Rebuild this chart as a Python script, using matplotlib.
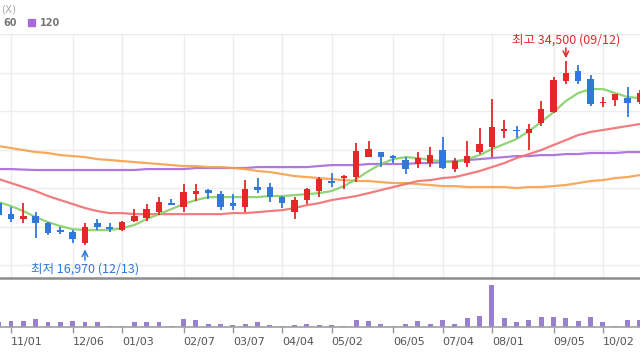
import numpy as np
import matplotlib
matplotlib.use('Agg')
import matplotlib.pyplot as plt

plt.rcParams['font.family'] = ['Noto Sans CJK KR', 'DejaVu Sans']

# weekly candles, week 0 = 11/01
weeks = np.arange(-1, 52)

opens = np.array([20970, 19900, 19450, 19750, 19050, 18400, 18200, 17150, 19050, 18700,
                  18400, 19250, 19550, 20100, 20950, 20600, 21850, 22200, 21850, 20950,
                  20600, 22500, 22500, 21550, 20100, 21250, 22100, 23050, 23350, 23450,
                  25350, 25850, 25450, 25050, 24650, 24800, 26000, 24200, 24800, 25850,
                  26300, 27850, 27950, 27650, 28600, 29650, 32600, 33550, 32800, 30500,
                  30800, 30950, 30600])
closes = np.array([19830, 19450, 19750, 19050, 18100, 18200, 17550, 18700, 18700, 18500,
                   19150, 19750, 20400, 21050, 20850, 22000, 22100, 21900, 20600, 20700,
                   22300, 22200, 21550, 20950, 21250, 22300, 23250, 22900, 23550, 25950,
                   26100, 25350, 25250, 24200, 25250, 25550, 24300, 24950, 25450, 26600,
                   28200, 28000, 27850, 28000, 29950, 32700, 33350, 32600, 30400, 30600,
                   31350, 30500, 31450])
highs = np.array([21250, 20600, 20950, 20100, 19150, 18700, 18400, 19050, 19450, 19050,
                  19250, 20400, 20900, 21550, 21350, 22800, 22800, 22300, 22100, 21850,
                  23150, 23350, 22900, 21650, 21550, 22400, 23450, 23850, 23650, 26700,
                  26900, 25850, 25550, 25350, 25800, 26300, 27250, 25250, 26900, 28100,
                  30900, 28900, 28300, 28500, 30700, 32950, 34500, 34100, 33150, 31050,
                  31350, 32000, 31750])
lows = np.array([19650, 19150, 19050, 17650, 17900, 18000, 17150, 16970, 18400, 18200,
                 18300, 19150, 19250, 19850, 20800, 20100, 21150, 21350, 20300, 20300,
                 20100, 21900, 21050, 20500, 19450, 20900, 21550, 22500, 22300, 22950,
                 25350, 24400, 24800, 23750, 24300, 24400, 24200, 23950, 24400, 25650,
                 25350, 27150, 27150, 26000, 28300, 29550, 32300, 32300, 30200, 30100,
                 30200, 29150, 30400])

ma5 = [21070, 20690, 20210, 19640, 19160, 18780, 18490, 18400, 18400, 18400,
       18590, 18880, 19450, 19920, 20400, 20880, 21260, 21540, 21540, 21540,
       21540, 21540, 21640, 21640, 21730, 21830, 21920, 22120, 22590, 23260,
       24020, 24690, 25160, 25350, 25260, 25070, 24970, 24880, 25160, 25540,
       26120, 26590, 27070, 27830, 28690, 29640, 30690, 31450, 31830, 31830,
       31450, 31070, 30970]
ma20 = [23260, 22880, 22500, 22120, 21640, 21260, 20880, 20500, 20210, 20020,
        20020, 19920, 19920, 19920, 19920, 19920, 19920, 19920, 19920, 20020,
        20020, 20110, 20210, 20300, 20500, 20780, 20970, 21260, 21450, 21640,
        21920, 22210, 22500, 22780, 23070, 23160, 23350, 23450, 23730, 24020,
        24400, 24780, 25260, 25640, 26020, 26500, 26970, 27450, 27740, 27930,
        28120, 28310, 28500]
ma60 = [26400, 26210, 26020, 25830, 25740, 25540, 25450, 25350, 25160, 25070,
        24970, 24880, 24780, 24690, 24590, 24500, 24500, 24400, 24400, 24310,
        24210, 24020, 23930, 23730, 23540, 23450, 23350, 23260, 23160, 23070,
        23070, 22970, 22880, 22880, 22780, 22690, 22590, 22590, 22500, 22500,
        22500, 22500, 22400, 22500, 22500, 22590, 22690, 22880, 23070, 23160,
        23350, 23450, 23640]
ma120 = [24210, 24210, 24160, 24120, 24120, 24120, 24120, 24120, 24120, 24120,
         24120, 24120, 24210, 24210, 24210, 24210, 24310, 24310, 24310, 24310,
         24310, 24400, 24400, 24400, 24400, 24400, 24500, 24590, 24590, 24590,
         24690, 24690, 24690, 24690, 24780, 24780, 24880, 24970, 25070, 25160,
         25260, 25350, 25450, 25450, 25540, 25540, 25640, 25640, 25740, 25740,
         25740, 25830, 25830]

volumes = [120, 140, 140, 200, 120, 120, 140, 120, 120, 35,
           35, 120, 120, 120, 35, 200, 165, 85, 85, 60,
           85, 120, 60, 35, 60, 85, 60, 60, 35, 165,
           140, 85, 35, 85, 140, 85, 165, 85, 225, 285,
           1045, 225, 120, 165, 250, 250, 225, 140, 250, 120,
           35, 165, 165]

tick_weeks = [0, 5, 9, 14, 18, 22, 26, 31, 35, 39, 44, 48]
tick_labels = ['11/01', '12/06', '01/03', '02/07', '03/07', '04/04',
               '05/02', '06/05', '07/04', '08/01', '09/05', '10/02']

RED = '#e4282a'
BLUE = '#3178dc'
GRID = '#ececec'

fig = plt.figure(figsize=(6.4, 3.6), dpi=100)
ax = fig.add_axes([0, 1 - 278 / 360, 1, 244 / 360])
axv = fig.add_axes([0, 1 - 327 / 360, 1, 49 / 360])

xlim = (-0.892, 51.01)

# main price panel
ax.set_xlim(*xlim)
ax.set_ylim(13840, 37070)
for lvl in np.arange(37070, 14000, -3668):
    ax.axhline(lvl, color=GRID, lw=1, zorder=0)
for t in tick_weeks:
    ax.axvline(t, color=GRID, lw=1, zorder=0)

ax.plot(weeks, ma120, color='#a56bd9', lw=1.6, alpha=0.9, zorder=2)
ax.plot(weeks, ma60, color='#f7a04a', lw=1.6, alpha=0.9, zorder=2)
ax.plot(weeks, ma20, color='#f26f70', lw=1.6, alpha=0.9, zorder=2)
ax.plot(weeks, ma5, color='#86d066', lw=1.6, alpha=0.9, zorder=2)

up = closes >= opens
colors = np.where(up, RED, BLUE)
ax.vlines(weeks, lows, highs, colors=colors, lw=1.3, zorder=3)
body_h = np.maximum(np.abs(closes - opens), 140)
body_bot = (opens + closes) / 2 - body_h / 2
ax.bar(weeks, body_h, bottom=body_bot, width=0.52, color=colors, lw=0, zorder=4)

hi = int(np.argmax(highs))
lo = int(np.argmin(lows))
ax.annotate('', xy=(weeks[hi], highs[hi]), xytext=(0, 13), textcoords='offset pixels',
            arrowprops=dict(arrowstyle='->', color=RED, lw=1.1, shrinkA=0, shrinkB=2))
ax.annotate('최고 34,500 (09/12)', xy=(weeks[hi], highs[hi]), xytext=(0, 21),
            textcoords='offset pixels', ha='center', va='center', color=RED, fontsize=9)
ax.annotate('', xy=(weeks[lo], lows[lo]), xytext=(0, -15), textcoords='offset pixels',
            arrowprops=dict(arrowstyle='->', color=BLUE, lw=1.1, shrinkA=0, shrinkB=3))
ax.annotate('최저 16,970 (12/13)', xy=(weeks[lo], lows[lo]), xytext=(0, -24),
            textcoords='offset pixels', ha='center', va='center', color=BLUE, fontsize=9)

ax.set_xticks([])
ax.set_yticks([])
for s in ax.spines.values():
    s.set_visible(False)

# volume panel
axv.set_xlim(*xlim)
axv.set_ylim(0, 1225)
axv.bar(weeks, volumes, width=0.4, color='#9a7fd1', lw=0)
axv.set_yticks([])
axv.set_xticks(tick_weeks)
axv.set_xticklabels(tick_labels, ha='left', fontsize=8, color='#555555', family='DejaVu Sans')
axv.tick_params(axis='x', length=4, width=1, color='#999999', pad=3)
for s in ['left', 'right']:
    axv.spines[s].set_visible(False)
axv.spines['top'].set_color('#8c8c8c')
axv.spines['top'].set_linewidth(1.8)
axv.spines['bottom'].set_color('#a0a0a0')
axv.spines['bottom'].set_linewidth(1.2)

# legend remnants at top left
fig.text(1 / 640, 1 - 9 / 360, '(X)', fontsize=7.5, color='#aaaaaa', va='center',
         family='DejaVu Sans')
fig.text(3 / 640, 1 - 23 / 360, '60', fontsize=7, color='#777777', weight='bold',
         va='center', family='DejaVu Sans')
fig.patches.append(plt.Rectangle((28 / 640, 1 - 26 / 360), 7 / 640, 7 / 360,
                                 transform=fig.transFigure, color='#a56bd9'))
fig.text(40 / 640, 1 - 23 / 360, '120', fontsize=7, color='#777777', weight='bold',
         va='center', family='DejaVu Sans')

fig.savefig('out.png', dpi=100, facecolor='white')
